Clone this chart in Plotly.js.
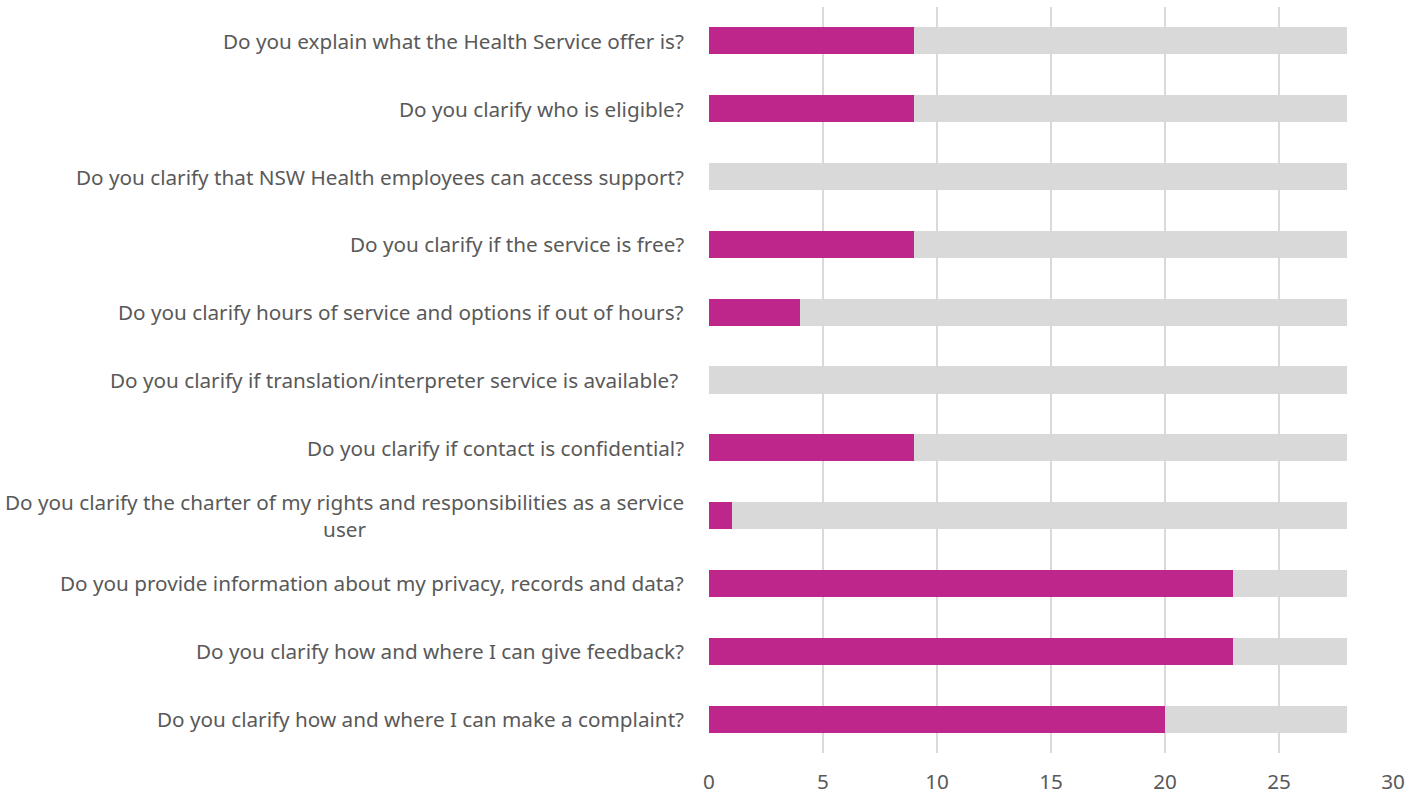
<!DOCTYPE html>
<html>
<head>
<meta charset="utf-8">
<script src="https://cdn.plot.ly/plotly-3.0.1.min.js"></script>
<style>
html,body{margin:0;padding:0;background:#fff;}
#chart{width:1421px;height:796px;}
</style>
</head>
<body>
<div id="chart"></div>
<script>
const categories = [
  "Do you explain what the Health Service offer is?",
  "Do you clarify who is eligible?",
  "Do you clarify that NSW Health employees can access support?",
  "Do you clarify if the service is free?",
  "Do you clarify hours of service and options if out of hours?",
  "Do you clarify if translation/interpreter service is available?&nbsp;",
  "Do you clarify if contact is confidential?",
  "Do you clarify the charter of my rights and responsibilities as a service<br>user",
  "Do you provide information about my privacy, records and data?",
  "Do you clarify how and where I can give feedback?",
  "Do you clarify how and where I can make a complaint?"
];
const yesValues = [9, 9, 0, 9, 4, 0, 9, 1, 23, 23, 20];
const noValues  = [19, 19, 28, 19, 24, 28, 19, 27, 5, 5, 8];
const xTickVals = [0, 5, 10, 15, 20, 25, 30];

const FONT = "Noto Sans, Open Sans, sans-serif";
const TXT = "#595959";

const yIdx = categories.map((c, i) => i);

const traces = [
  {type: "bar", orientation: "h", name: "Yes", y: yIdx, x: yesValues,
   marker: {color: "#BE268C"}, hoverinfo: "x"},
  {type: "bar", orientation: "h", name: "No", y: yIdx, x: noValues,
   marker: {color: "#D9D9D9"}, hoverinfo: "x"}
];

const annotations = categories.map((c, i) => ({
  xref: "paper", yref: "y", x: 0, y: i, xanchor: "right", yanchor: "middle",
  xshift: -23, text: c, showarrow: false, align: "center",
  font: {family: FONT, size: 20.7, color: TXT}
}));

const layout = {
  width: 1421, height: 796,
  margin: {l: 709, r: 28, t: 7, b: 43, pad: 0},
  paper_bgcolor: "#fff", plot_bgcolor: "#fff",
  barmode: "stack", bargap: 0.6,
  showlegend: false,
  font: {family: FONT, color: TXT},
  xaxis: {
    range: [0, 30], tickvals: xTickVals, ticktext: xTickVals.map(String),
    showgrid: true, gridcolor: "#D9D9D9", gridwidth: 1.5,
    zeroline: false, showline: false, ticks: "",
    tickfont: {family: FONT, size: 20.7, color: TXT}, ticklabelstandoff: 14
  },
  yaxis: {
    range: [categories.length - 0.5, -0.5], tickvals: yIdx,
    showticklabels: false, showgrid: false, zeroline: false, showline: false, ticks: ""
  },
  annotations: annotations
};

Plotly.newPlot("chart", traces, layout, {displayModeBar: false, staticPlot: true});
</script>
</body>
</html>
